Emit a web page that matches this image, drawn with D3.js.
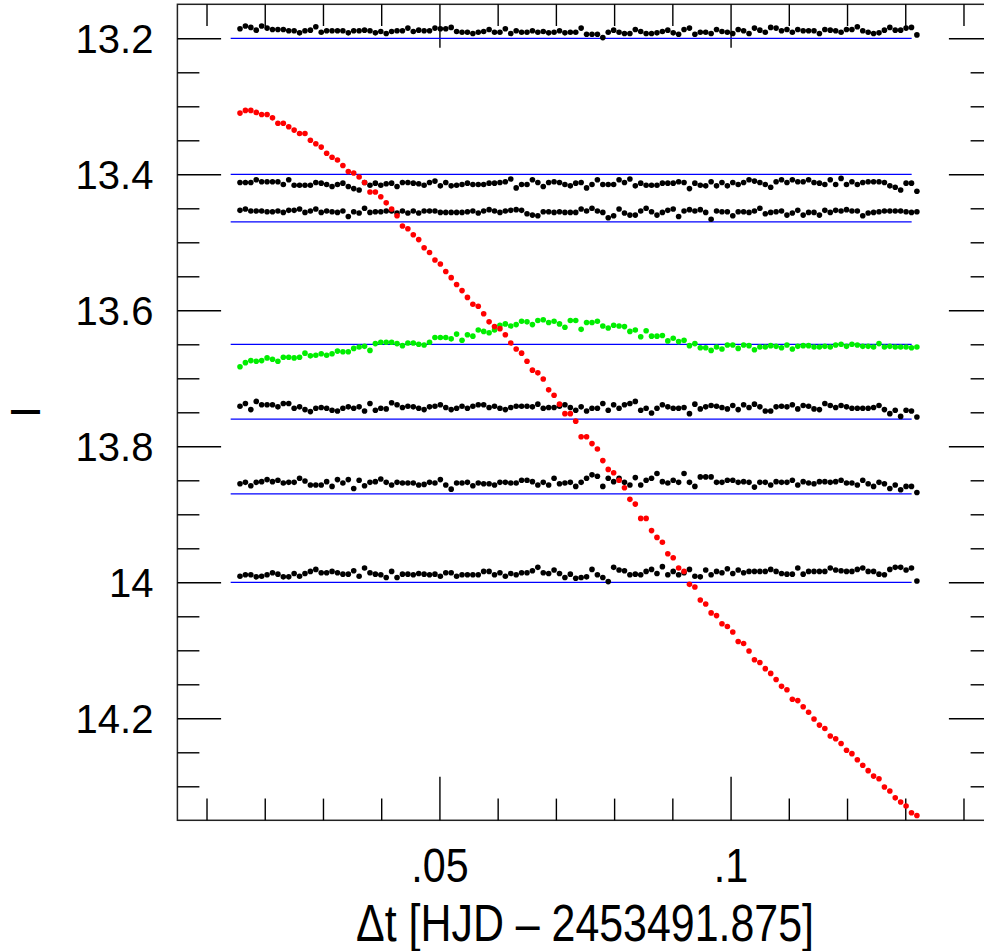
<!DOCTYPE html>
<html>
<head>
<meta charset="utf-8">
<script src="https://cdn.jsdelivr.net/npm/d3@7"></script>
<style>
  body { margin: 0; background: #fff; }
  svg { display: block; }
</style>
</head>
<body>
<svg id="chart" width="984" height="951"></svg>
<script>
// time of each frame (days after HJD 2453491.875), shared by all stars
var times = [
  0.01575,0.01668,0.01761,0.01854,0.01947,0.02040,0.02133,0.02226,0.02319,0.02412,
  0.02505,0.02598,0.02691,0.02784,0.02877,0.02970,0.03063,0.03156,0.03249,0.03342,
  0.03435,0.03528,0.03621,0.03714,0.03807,0.03900,0.03993,0.04086,0.04179,0.04272,
  0.04365,0.04458,0.04551,0.04644,0.04737,0.04830,0.04923,0.05016,0.05109,0.05202,
  0.05295,0.05388,0.05481,0.05574,0.05667,0.05760,0.05853,0.05946,0.06039,0.06132,
  0.06225,0.06318,0.06411,0.06504,0.06597,0.06690,0.06783,0.06876,0.06969,0.07062,
  0.07155,0.07248,0.07341,0.07434,0.07527,0.07620,0.07713,0.07806,0.07899,0.07992,
  0.08085,0.08178,0.08271,0.08364,0.08457,0.08550,0.08643,0.08736,0.08829,0.08922,
  0.09015,0.09108,0.09201,0.09294,0.09387,0.09480,0.09573,0.09666,0.09759,0.09852,
  0.09945,0.10038,0.10131,0.10224,0.10317,0.10410,0.10503,0.10596,0.10689,0.10782,
  0.10875,0.10968,0.11061,0.11154,0.11247,0.11340,0.11433,0.11526,0.11619,0.11712,
  0.11805,0.11898,0.11991,0.12084,0.12177,0.12270,0.12363,0.12456,0.12549,0.12642,
  0.12735,0.12828,0.12921,0.13014,0.13107,0.13200
];

// variable star (red)
var magVar = [
  13.310,13.306,13.306,13.309,13.312,13.312,13.317,13.325,13.325,13.330,
  13.335,13.340,13.340,13.350,13.355,13.360,13.369,13.375,13.379,13.387,
  13.396,13.398,13.404,13.412,13.426,13.426,13.433,13.442,13.451,13.461,
  13.476,13.480,13.489,13.496,13.508,13.515,13.526,13.532,13.543,13.552,
  13.562,13.571,13.581,13.591,13.594,13.605,13.617,13.624,13.627,13.636,
  13.648,13.657,13.663,13.675,13.688,13.692,13.701,13.717,13.725,13.738,
  13.752,13.752,13.763,13.786,13.786,13.796,13.804,13.821,13.834,13.839,
  13.850,13.861,13.878,13.885,13.906,13.906,13.924,13.934,13.941,13.958,
  13.964,13.979,13.984,14.003,14.007,14.026,14.032,14.045,14.049,14.061,
  14.065,14.073,14.087,14.090,14.101,14.114,14.118,14.127,14.134,14.143,
  14.153,14.158,14.172,14.174,14.183,14.191,14.201,14.210,14.215,14.226,
  14.230,14.237,14.247,14.252,14.261,14.269,14.277,14.285,14.289,14.301,
  14.307,14.317,14.323,14.329,14.339,14.343
];

// second variable (green)
var magGreen = [
  13.683,13.677,13.674,13.675,13.674,13.670,13.672,13.675,13.669,13.669,
  13.670,13.669,13.663,13.667,13.666,13.664,13.666,13.664,13.660,13.661,
  13.661,13.656,13.654,13.653,13.659,13.649,13.647,13.647,13.647,13.649,
  13.652,13.648,13.648,13.650,13.651,13.647,
  13.640,13.640,13.640,13.642,13.635,13.644,13.636,13.638,13.629,13.631,
  13.633,13.629,13.622,13.620,13.623,13.621,13.616,13.617,13.621,13.615,
  13.614,13.618,13.616,13.620,13.625,13.615,13.615,13.628,13.618,13.618,
  13.616,13.623,13.626,13.622,13.623,13.624,13.631,13.629,13.639,13.630,
  13.638,13.638,13.637,13.645,13.641,
  13.646,13.644,13.652,13.649,13.655,13.655,13.659,13.654,13.657,13.651,
  13.651,13.656,13.651,13.652,13.658,13.654,13.654,13.652,13.653,13.655,
  13.651,13.657,13.653,13.652,13.652,13.654,13.654,13.653,13.654,13.651,
  13.650,13.653,13.650,13.651,13.653,13.653,13.654,13.649,13.654,13.653,
  13.654,13.654,13.654,13.655,13.654
];

// comparison stars (black)
var magComp1 = [
  13.186,13.182,13.184,13.188,13.182,13.185,13.187,13.187,13.187,13.189,
  13.189,13.192,13.189,13.188,13.183,13.191,13.189,13.189,13.189,13.189,
  13.192,13.189,13.189,13.188,13.189,13.192,13.190,13.193,13.190,13.189,
  13.189,13.185,13.190,13.188,13.189,13.189,
  13.185,13.186,13.186,13.184,13.190,13.191,13.191,13.193,13.191,13.190,
  13.187,13.191,13.191,13.186,13.193,13.189,13.191,13.191,13.189,13.191,
  13.190,13.192,13.191,13.189,13.192,13.191,13.191,13.185,13.194,13.194,
  13.194,13.199,13.191,13.188,13.191,13.193,13.193,13.187,13.190,13.193,
  13.193,13.192,13.190,13.188,13.192,
  13.194,13.187,13.185,13.194,13.191,13.191,13.193,13.187,13.190,13.191,
  13.193,13.187,13.189,13.193,13.185,13.188,13.191,13.184,13.185,13.189,
  13.187,13.191,13.187,13.189,13.189,13.189,13.193,13.187,13.188,13.189,
  13.191,13.187,13.187,13.183,13.189,13.191,13.193,13.192,13.188,13.184,
  13.188,13.188,13.185,13.184,13.195
];
var magComp2 = [
  13.412,13.412,13.412,13.408,13.411,13.411,13.411,13.411,13.415,13.408,
  13.416,13.416,13.416,13.416,13.412,13.413,13.415,13.418,13.415,13.413,
  13.418,13.421,13.423,13.412,13.416,13.413,13.416,13.414,13.413,13.418,
  13.412,13.412,13.413,13.414,13.416,13.412,
  13.410,13.417,13.412,13.417,13.416,13.415,13.413,13.415,13.415,13.415,
  13.413,13.413,13.412,13.411,13.407,13.420,13.415,13.415,13.408,13.412,
  13.418,13.412,13.411,13.412,13.415,13.417,13.413,13.412,13.420,13.415,
  13.408,13.415,13.415,13.415,13.408,13.412,13.407,13.417,13.413,13.416,
  13.416,13.416,13.413,13.413,13.413,
  13.411,13.412,13.421,13.413,13.416,13.417,13.411,13.417,13.412,13.417,
  13.412,13.415,13.412,13.408,13.410,13.412,13.415,13.419,13.411,13.408,
  13.412,13.408,13.411,13.411,13.408,13.412,13.413,13.415,13.408,13.415,
  13.406,13.415,13.411,13.415,13.412,13.411,13.411,13.411,13.412,13.417,
  13.419,13.423,13.413,13.413,13.425
];
var magComp3 = [
  13.453,13.451,13.454,13.454,13.454,13.455,13.455,13.454,13.456,13.453,
  13.453,13.451,13.456,13.454,13.451,13.456,13.454,13.455,13.456,13.454,
  13.462,13.455,13.457,13.450,13.456,13.455,13.455,13.454,13.454,13.457,
  13.454,13.457,13.454,13.457,13.454,13.454,
  13.454,13.456,13.456,13.456,13.456,13.456,13.455,13.454,13.457,13.454,
  13.452,13.454,13.456,13.454,13.453,13.452,13.453,13.458,13.460,13.461,
  13.455,13.455,13.456,13.455,13.456,13.456,13.456,13.451,13.454,13.450,
  13.454,13.456,13.464,13.461,13.451,13.457,13.460,13.460,13.454,13.450,
  13.455,13.460,13.456,13.453,13.451,
  13.462,13.454,13.452,13.454,13.452,13.456,13.466,13.454,13.455,13.455,
  13.461,13.455,13.455,13.456,13.454,13.450,13.458,13.456,13.455,13.454,
  13.460,13.457,13.453,13.460,13.456,13.456,13.460,13.453,13.456,13.453,
  13.454,13.452,13.454,13.454,13.461,13.457,13.456,13.455,13.454,13.454,
  13.454,13.454,13.455,13.456,13.455
];
var magComp4 = [
  13.741,13.737,13.746,13.734,13.739,13.739,13.739,13.742,13.737,13.737,
  13.744,13.742,13.746,13.749,13.744,13.743,13.744,13.747,13.748,13.744,
  13.742,13.744,13.742,13.748,13.737,13.747,13.744,13.745,13.736,13.739,
  13.743,13.741,13.742,13.744,13.746,13.742,
  13.741,13.739,13.743,13.746,13.744,13.741,13.744,13.741,13.739,13.739,
  13.743,13.741,13.744,13.746,13.743,13.741,13.741,13.741,13.742,13.738,
  13.744,13.743,13.743,13.741,13.739,13.743,13.747,13.742,13.748,13.744,
  13.744,13.737,13.747,13.739,13.744,13.739,13.737,13.734,13.747,13.744,
  13.751,13.744,13.739,13.742,13.744,
  13.744,13.743,13.752,13.738,13.745,13.742,13.740,13.741,13.743,13.745,
  13.740,13.746,13.739,13.743,13.738,13.742,13.748,13.748,13.742,13.741,
  13.742,13.739,13.745,13.740,13.741,13.745,13.746,13.737,13.740,13.743,
  13.740,13.742,13.744,13.744,13.744,13.744,13.743,13.740,13.746,13.752,
  13.747,13.756,13.747,13.748,13.757
];
var magComp5 = [
  13.855,13.853,13.858,13.853,13.852,13.849,13.852,13.850,13.854,13.853,
  13.853,13.847,13.851,13.857,13.857,13.857,13.852,13.859,13.849,13.854,
  13.849,13.862,13.850,13.858,13.853,13.852,13.848,13.853,13.857,13.853,
  13.854,13.854,13.854,13.857,13.856,13.853,
  13.854,13.849,13.857,13.863,13.854,13.854,13.853,13.858,13.854,13.855,
  13.855,13.857,13.853,13.853,13.854,13.854,13.850,13.850,13.852,13.857,
  13.853,13.857,13.847,13.855,13.854,13.853,13.859,13.853,13.847,13.842,
  13.844,13.859,13.847,13.852,13.847,13.853,13.857,13.846,13.857,13.850,
  13.847,13.840,13.852,13.854,13.850,
  13.853,13.840,13.853,13.859,13.845,13.845,13.845,13.853,13.853,13.850,
  13.850,13.853,13.852,13.853,13.860,13.853,13.853,13.857,13.852,13.853,
  13.853,13.850,13.857,13.852,13.854,13.855,13.852,13.852,13.853,13.852,
  13.850,13.854,13.854,13.857,13.850,13.855,13.859,13.853,13.855,13.862,
  13.857,13.864,13.859,13.859,13.868
];
var magComp6 = [
  13.991,13.989,13.989,13.992,13.991,13.989,13.986,13.988,13.992,13.992,
  13.987,13.991,13.987,13.984,13.981,13.986,13.986,13.984,13.986,13.988,
  13.988,13.983,13.991,13.979,13.986,13.988,13.989,13.993,13.984,13.993,
  13.988,13.988,13.989,13.987,13.988,13.989,
  13.988,13.991,13.986,13.986,13.991,13.989,13.989,13.989,13.989,13.984,
  13.984,13.989,13.986,13.991,13.987,13.989,13.986,13.986,13.983,13.978,
  13.986,13.987,13.982,13.987,13.993,13.988,13.994,13.993,13.992,13.981,
  13.989,13.993,13.999,13.978,13.982,13.983,13.989,13.988,13.989,13.984,
  13.981,13.987,13.977,13.989,13.984,
  13.989,13.986,13.981,13.991,13.992,13.982,13.989,13.984,13.986,13.980,
  13.987,13.982,13.986,13.984,13.984,13.984,13.984,13.981,13.984,13.987,
  13.988,13.988,13.979,13.988,13.984,13.984,13.984,13.984,13.979,13.982,
  13.983,13.984,13.984,13.981,13.979,13.984,13.984,13.988,13.989,13.981,
  13.978,13.978,13.982,13.979,13.998
];

// mean levels (blue lines) and their time span
var refLevels = [13.2, 13.4, 13.47, 13.65, 13.76, 13.87, 14.0];
var refSpan = [0.01415, 0.1311];

// axis ticks
var xMajorTicks = [0.05, 0.1];
var xMinorTicks = [0.01, 0.02, 0.03, 0.04, 0.06, 0.07, 0.08, 0.09, 0.11, 0.12, 0.13, 0.14];
var yMajorTicks = [13.2, 13.4, 13.6, 13.8, 14.0, 14.2];
var yMinorTicks = [13.25, 13.3, 13.35, 13.45, 13.5, 13.55, 13.65, 13.7, 13.75,
                   13.85, 13.9, 13.95, 14.05, 14.1, 14.15, 14.25, 14.3];

var xDomain = [0.005, 0.145];
var yDomain = [13.15, 14.35];

// ---------------------------------------------------------------

var plotL = 177.4, plotR = 992.6, plotT = 4.3, plotB = 820.3;
var narrowFont = '"Liberation Sans", Arial, sans-serif';

var svg = d3.select('#chart');

var x = d3.scaleLinear().domain(xDomain).range([plotL, plotR]);
var y = d3.scaleLinear().domain(yDomain).range([plotT, plotB]);

// frame
svg.append('rect')
  .attr('x', plotL).attr('y', plotT)
  .attr('width', plotR - plotL).attr('height', plotB - plotT)
  .attr('fill', 'none')
  .attr('stroke', '#222')
  .attr('stroke-width', 1.5);

function styleTicks(g){
  g.select('.domain').remove();
  g.selectAll('.tick line').attr('stroke', '#000').attr('stroke-width', 1.4);
}

// x ticks, bottom and top, pointing inward
svg.append('g').attr('transform', 'translate(0,' + plotB + ')')
  .call(d3.axisBottom(x).tickValues(xMinorTicks).tickSize(-21.7).tickFormat(''))
  .call(styleTicks);
svg.append('g').attr('transform', 'translate(0,' + plotT + ')')
  .call(d3.axisTop(x).tickValues(xMinorTicks).tickSize(-21.7).tickFormat(''))
  .call(styleTicks);
svg.append('g').attr('transform', 'translate(0,' + plotT + ')')
  .call(d3.axisTop(x).tickValues(xMajorTicks).tickSize(-43.5).tickFormat(''))
  .call(styleTicks);

var xLab = svg.append('g').attr('transform', 'translate(0,' + plotB + ')')
  .call(d3.axisBottom(x).tickValues(xMajorTicks).tickSize(-43.5)
    .tickFormat(function(d){ return String(d).replace(/^0\./, '.'); }))
  .call(styleTicks);
xLab.selectAll('.tick text')
  .attr('y', 62).attr('dy', null)
  .attr('transform', 'scale(0.86,1)')
  .attr('fill', '#000')
  .style('font-family', narrowFont)
  .style('font-size', '48px');

// y ticks, left and right
svg.append('g').attr('transform', 'translate(' + plotL + ',0)')
  .call(d3.axisLeft(y).tickValues(yMinorTicks).tickSize(-22).tickFormat(''))
  .call(styleTicks);
svg.append('g').attr('transform', 'translate(' + plotR + ',0)')
  .call(d3.axisRight(y).tickValues(yMinorTicks).tickSize(-22).tickFormat(''))
  .call(styleTicks);
svg.append('g').attr('transform', 'translate(' + plotR + ',0)')
  .call(d3.axisRight(y).tickValues(yMajorTicks).tickSize(-43.7).tickFormat(''))
  .call(styleTicks);

var yLab = svg.append('g').attr('transform', 'translate(' + plotL + ',0)')
  .call(d3.axisLeft(y).tickValues(yMajorTicks).tickSize(-43.7).tickPadding(24)
    .tickFormat(function(d){ return String(+d.toFixed(1)); }))
  .call(styleTicks);
yLab.selectAll('.tick text')
  .attr('dy', '0.36em')
  .attr('fill', '#000')
  .style('font-family', '"Liberation Sans", Arial, sans-serif')
  .style('font-size', '40px');

// axis titles
svg.append('text')
  .attr('transform', 'translate(' + ((plotL + plotR) / 2) + ',941) scale(0.825,1)')
  .attr('text-anchor', 'middle')
  .style('font-family', narrowFont)
  .style('font-size', '52px')
  .text('\u0394t [HJD \u2013 2453491.875]');

svg.append('text')
  .attr('transform', 'translate(39.5,412) rotate(-90)')
  .attr('text-anchor', 'middle')
  .style('font-family', '"Liberation Sans", Arial, sans-serif')
  .style('font-size', '43px')
  .text('I');

// mean level lines
svg.append('g').selectAll('line')
  .data(refLevels)
  .enter().append('line')
  .attr('x1', x(refSpan[0]))
  .attr('x2', x(refSpan[1]))
  .attr('y1', function(d){ return y(d); })
  .attr('y2', function(d){ return y(d); })
  .attr('stroke', '#0000ff')
  .attr('stroke-width', 1.2);

// dots
var series = [
  { mags: magComp1, color: '#000' },
  { mags: magComp2, color: '#000' },
  { mags: magComp3, color: '#000' },
  { mags: magComp4, color: '#000' },
  { mags: magComp5, color: '#000' },
  { mags: magComp6, color: '#000' },
  { mags: magGreen, color: '#00ee00' },
  { mags: magVar, color: '#ff0000' }
];

series.forEach(function(s){
  svg.append('g').selectAll('circle')
    .data(s.mags)
    .enter().append('circle')
    .attr('cx', function(d, i){ return x(times[i]); })
    .attr('cy', function(d){ return y(d); })
    .attr('r', 2.8)
    .attr('fill', s.color);
});
</script>
</body>
</html>
